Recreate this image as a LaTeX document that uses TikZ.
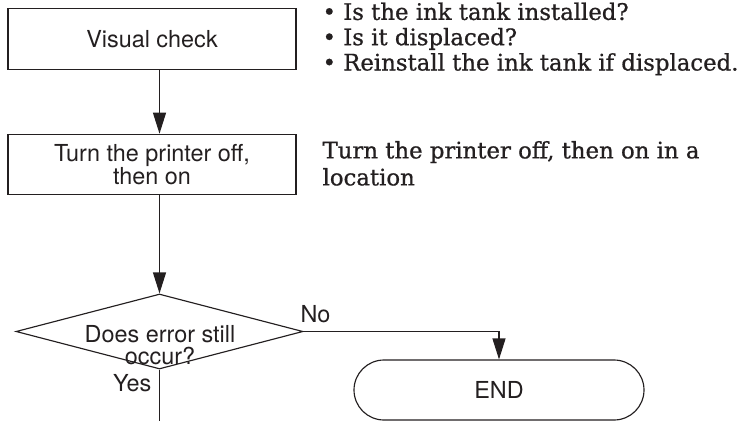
\documentclass[tikz,border=0pt]{standalone}
\usepackage{fontspec}
\newfontfamily\heros{TeX Gyre Heros}
\newfontfamily\dvserif[FakeBold=0.8]{DejaVu Serif}
\usetikzlibrary{arrows.meta,shapes.geometric}
\definecolor{ink}{RGB}{35,31,32}
\begin{document}
\begin{tikzpicture}[x=1pt,y=-1pt,line width=1.15pt,draw=ink,text=ink,
  sansf/.style={font=\heros\fontsize{23.4}{23.5}\selectfont},
  diatext/.style={font=\heros\fontsize{23.4}{22}\selectfont},
  seriff/.style={font=\dvserif\fontsize{22.8}{25.3}\selectfont},
  serifp/.style={font=\dvserif\fontsize{22.8}{27}\selectfont},
  stepbox/.style={draw,sansf,minimum width=288pt,minimum height=60.5pt,inner sep=0pt,align=center},
  arr/.style={-{Triangle[length=21pt,width=13pt]}}]
\useasboundingbox (0,0) rectangle (741,421);
% boxes
\node[stepbox] (vis) at (152,39) {Visual check};
\node[stepbox] (turn) at (152,164.5) {Turn the printer off,\\then on};
\node[draw,diamond,minimum width=287pt,minimum height=75pt,inner sep=0pt] (dia) at (159.5,331.5) {};
\node[diatext,align=center,inner sep=0pt] (diat) at (160,345.5) {Does error still\\occur?};
\node[draw,sansf,rounded corners=30pt,minimum width=290pt,minimum height=60pt,inner sep=0pt] (endn) at (499,390) {END};
% side notes
\node[seriff,align=left,anchor=north west,inner sep=0pt] (note1) at (322,2)
  {• Is the ink tank installed?\\• Is it displaced?\\• Reinstall the ink tank if displaced.};
\node[serifp,align=left,anchor=north west,inner sep=0pt] (note2) at (322,140.5)
  {Turn the printer off, then on in a\\location};
% labels
\node[sansf,anchor=base west,inner sep=0pt] (nolab) at (300,322) {No};
\node[sansf,anchor=base east,inner sep=0pt] (yeslab) at (152,391) {Yes};
% connectors
\coordinate (yesend) at (159.5,421);
\draw[arr] (vis.south -| dia.north) -- (turn.north -| dia.north);
\draw[arr] (turn.south -| dia.north) -- (dia.north);
\draw[arr] (dia.east) -| (endn.north);
\draw (dia.south) -- (yesend);
\end{tikzpicture}
\end{document}
